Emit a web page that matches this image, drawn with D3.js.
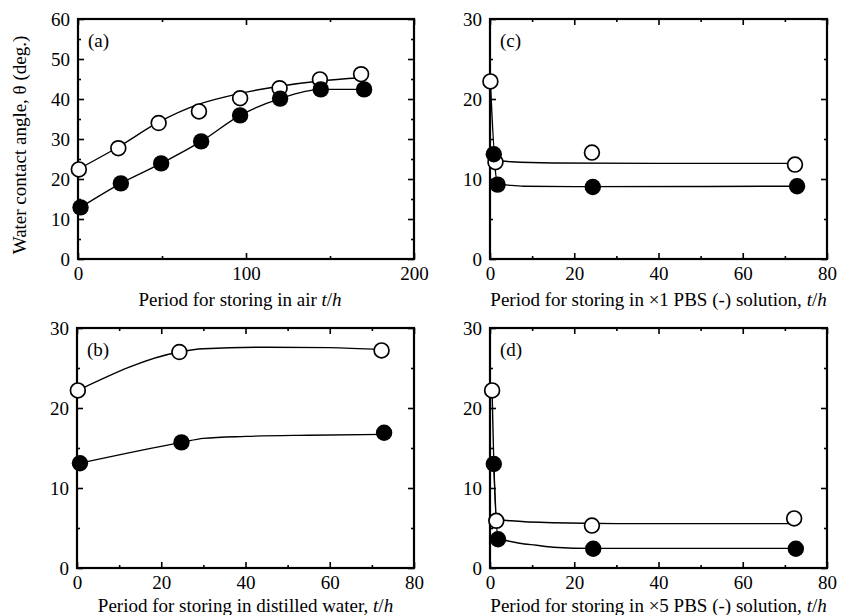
<!DOCTYPE html>
<html>
<head>
<meta charset="utf-8">
<script src="https://cdn.jsdelivr.net/npm/d3@7"></script>
<style>
  body { margin: 0; background: #fff; }
  svg text { font-family: "Liberation Serif", "Times New Roman", serif; fill: #000; }
  .frame { fill: none; stroke: #000; stroke-width: 2.2; }
  .axis path { display: none; }
  .axis line { stroke: #000; stroke-width: 1.6; }
  .axis text { font-size: 19px; }
  .fit { fill: none; stroke: #000; stroke-width: 1.4; }
</style>
</head>
<body>
<svg id="chart"></svg>
<script>
// ---- data ----
// (a) stored in air
const airHoursOpen = [0.5, 24, 48, 72, 96.5, 120, 144, 168.5];
const airAngleOpen = [22.4, 27.7, 34.0, 36.9, 40.2, 42.7, 44.9, 46.2];
const airHoursFilled = [1.5, 25.5, 49.5, 73.3, 96.5, 120.3, 144.5, 170.3];
const airAngleFilled = [12.9, 18.9, 23.9, 29.4, 35.9, 40.1, 42.4, 42.4];
const airFitHoursOpen = [0.8, 24, 48, 72, 96.5, 120, 144, 168.5];
const airFitAngleOpen = [22.6, 28.0, 34.2, 38.7, 41.4, 43.2, 44.5, 45.3];

// (b) stored in distilled water
const waterHoursOpen = [0.2, 24.3, 72.3];
const waterAngleOpen = [22.2, 27.0, 27.2];
const waterHoursFilled = [0.7, 24.8, 72.9];
const waterAngleFilled = [13.1, 15.7, 16.9];
const waterFitHoursOpen = [0.2, 24.3, 30, 45, 60, 72.3];
const waterFitAngleOpen = [22.2, 27.0, 27.4, 27.6, 27.55, 27.3];
const waterFitHoursFilled = [0.7, 24.8, 30, 40, 55, 72.9];
const waterFitAngleFilled = [13.1, 15.7, 16.2, 16.45, 16.6, 16.7];

// (c) stored in x1 PBS(-)
const pbs1HoursOpen = [0.1, 1.3, 24.2, 72.4];
const pbs1AngleOpen = [22.2, 12.1, 13.3, 11.8];
const pbs1HoursFilled = [0.9, 1.8, 24.4, 72.9];
const pbs1AngleFilled = [13.1, 9.3, 9.0, 9.1];
const pbs1FitHoursOpen = [0.1, 1.3, 5, 15, 40, 72.4];
const pbs1FitAngleOpen = [22.2, 12.4, 12.15, 12.0, 11.95, 11.95];
const pbs1FitHoursFilled = [0.9, 1.8, 5, 8, 20, 72.9];
const pbs1FitAngleFilled = [13.1, 9.4, 9.2, 9.1, 9.05, 9.1];

// (d) stored in x5 PBS(-)
const pbs5HoursOpen = [0.5, 1.5, 24.2, 72.2];
const pbs5AngleOpen = [22.2, 5.9, 5.3, 6.2];
const pbs5HoursFilled = [0.9, 1.9, 24.5, 72.6];
const pbs5AngleFilled = [13.0, 3.6, 2.4, 2.4];
const pbs5FitHoursOpen = [0.5, 1.5, 5, 15, 30, 72.2];
const pbs5FitAngleOpen = [22.2, 6.1, 5.9, 5.65, 5.55, 5.55];
const pbs5FitHoursFilled = [0.9, 1.9, 4, 7, 11, 15, 24.5, 72.6];
const pbs5FitAngleFilled = [13.0, 3.7, 3.4, 3.1, 2.85, 2.6, 2.45, 2.45];

// tick values
const airXMajor = [0, 100, 200];
const airXMinor = [50, 150];
const airYMajor = [0, 10, 20, 30, 40, 50, 60];
const airYMinor = [5, 15, 25, 35, 45, 55];
const solXMajor = [0, 20, 40, 60, 80];
const solXMinor = [10, 30, 50, 70];
const solYMajor = [0, 10, 20, 30];
const solYMinor = [5, 15, 25];

const zip = (xs, ys) => xs.map((x, i) => ({x: x, y: ys[i]}));

const svg = d3.select('#chart')
    .attr('width', 842)
    .attr('height', 615);

class Panel {
  constructor(_config) {
    this.config = _config;
    this.initVis();
  }

  initVis() {
    let vis = this;
    const c = vis.config;

    vis.xScale = d3.scaleLinear().domain(c.xDomain).range([0, c.width]);
    vis.yScale = d3.scaleLinear().domain(c.yDomain).range([c.height, 0]);

    vis.chart = svg.append('g')
        .attr('transform', `translate(${c.left},${c.top})`);

    // ticks point inward on all four sides
    const addAxis = (axisFn, scale, values, size, labels, transform) => {
      const ax = axisFn(scale).tickValues(values).tickSize(size).tickPadding(labels ? 8 : 0);
      if (!labels) ax.tickFormat('');
      vis.chart.append('g')
          .attr('class', 'axis')
          .attr('transform', transform)
          .call(ax);
    };

    addAxis(d3.axisBottom, vis.xScale, c.xMajor, -6, true, `translate(0,${c.height})`);
    addAxis(d3.axisBottom, vis.xScale, c.xMinor, -3, false, `translate(0,${c.height})`);
    addAxis(d3.axisTop, vis.xScale, c.xMajor, -6, false, 'translate(0,0)');
    addAxis(d3.axisTop, vis.xScale, c.xMinor, -3, false, 'translate(0,0)');
    addAxis(d3.axisLeft, vis.yScale, c.yMajor, -6, true, 'translate(0,0)');
    addAxis(d3.axisLeft, vis.yScale, c.yMinor, -3, false, 'translate(0,0)');
    addAxis(d3.axisRight, vis.yScale, c.yMajor, -6, false, `translate(${c.width},0)`);
    addAxis(d3.axisRight, vis.yScale, c.yMinor, -3, false, `translate(${c.width},0)`);

    vis.chart.append('rect')
        .attr('class', 'frame')
        .attr('width', c.width)
        .attr('height', c.height);

    // x axis title with italic t/h
    const xt = vis.chart.append('text')
        .attr('x', c.width / 2 + (c.titleShift || 0))
        .attr('y', c.height + c.titleGap)
        .attr('text-anchor', 'middle')
        .style('font-size', '19px');
    xt.append('tspan').text(c.xTitle);
    xt.append('tspan').style('font-style', 'italic').text('t');
    xt.append('tspan').text('/');
    xt.append('tspan').style('font-style', 'italic').text('h');

    vis.chart.append('text')
        .attr('x', 10)
        .attr('y', 28)
        .style('font-size', '19px')
        .text(c.tag);

    if (c.yTitle) {
      vis.chart.append('text')
          .attr('transform', `translate(${c.yTitleX},${c.height / 2 + 6})rotate(-90)`)
          .attr('text-anchor', 'middle')
          .style('font-size', '19px')
          .text(c.yTitle);
    }

    vis.renderVis();
  }

  renderVis() {
    let vis = this;
    const c = vis.config;

    const line = d3.line()
        .x(d => vis.xScale(d.x))
        .y(d => vis.yScale(d.y))
        .curve(d3.curveMonotoneX);

    c.fits.forEach(f => {
      vis.chart.append('path')
          .datum(f)
          .attr('class', 'fit')
          .attr('d', line);
    });

    vis.chart.selectAll('.pt-open')
      .data(c.open)
      .join('circle')
        .attr('class', 'pt-open')
        .attr('cx', d => vis.xScale(d.x))
        .attr('cy', d => vis.yScale(d.y))
        .attr('r', 7.4)
        .attr('fill', '#fff')
        .attr('stroke', '#000')
        .attr('stroke-width', 1.7);

    vis.chart.selectAll('.pt-filled')
      .data(c.filled)
      .join('circle')
        .attr('class', 'pt-filled')
        .attr('cx', d => vis.xScale(d.x))
        .attr('cy', d => vis.yScale(d.y))
        .attr('r', 8.2)
        .attr('fill', '#000');
  }
}

new Panel({
  left: 78, top: 19, width: 336, height: 240,
  xDomain: [0, 200], yDomain: [0, 60],
  xMajor: airXMajor, xMinor: airXMinor, yMajor: airYMajor, yMinor: airYMinor,
  xTitle: 'Period for storing in air ', titleGap: 47, titleShift: -6,
  yTitle: 'Water contact angle, \u03b8 (deg.)', yTitleX: -52,
  tag: '(a)',
  open: zip(airHoursOpen, airAngleOpen),
  filled: zip(airHoursFilled, airAngleFilled),
  fits: [zip(airFitHoursOpen, airFitAngleOpen), zip(airHoursFilled, airAngleFilled)]
});

new Panel({
  left: 77, top: 328, width: 337, height: 240,
  xDomain: [0, 80], yDomain: [0, 30],
  xMajor: solXMajor, xMinor: solXMinor, yMajor: solYMajor, yMinor: solYMinor,
  xTitle: 'Period for storing in distilled water, ', titleGap: 44,
  tag: '(b)',
  open: zip(waterHoursOpen, waterAngleOpen),
  filled: zip(waterHoursFilled, waterAngleFilled),
  fits: [zip(waterFitHoursOpen, waterFitAngleOpen), zip(waterFitHoursFilled, waterFitAngleFilled)]
});

new Panel({
  left: 490, top: 19, width: 337, height: 240,
  xDomain: [0, 80], yDomain: [0, 30],
  xMajor: solXMajor, xMinor: solXMinor, yMajor: solYMajor, yMinor: solYMinor,
  xTitle: 'Period for storing in \u00d71 PBS (-) solution, ', titleGap: 47,
  tag: '(c)',
  open: zip(pbs1HoursOpen, pbs1AngleOpen),
  filled: zip(pbs1HoursFilled, pbs1AngleFilled),
  fits: [zip(pbs1FitHoursOpen, pbs1FitAngleOpen), zip(pbs1FitHoursFilled, pbs1FitAngleFilled)]
});

new Panel({
  left: 490, top: 328, width: 337, height: 240,
  xDomain: [0, 80], yDomain: [0, 30],
  xMajor: solXMajor, xMinor: solXMinor, yMajor: solYMajor, yMinor: solYMinor,
  xTitle: 'Period for storing in \u00d75 PBS (-) solution, ', titleGap: 44,
  tag: '(d)',
  open: zip(pbs5HoursOpen, pbs5AngleOpen),
  filled: zip(pbs5HoursFilled, pbs5AngleFilled),
  fits: [zip(pbs5FitHoursOpen, pbs5FitAngleOpen), zip(pbs5FitHoursFilled, pbs5FitAngleFilled)]
});
</script>
</body>
</html>
